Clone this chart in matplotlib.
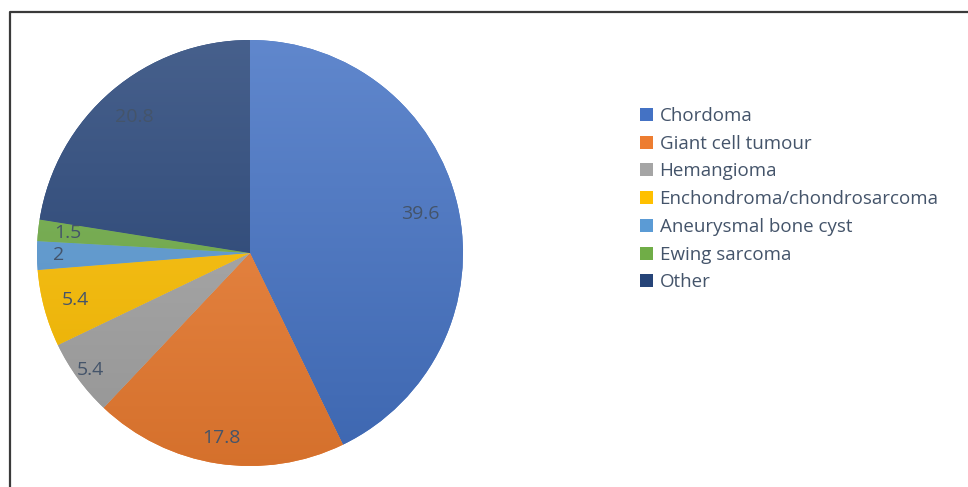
import numpy as np
import matplotlib
matplotlib.use("Agg")
import matplotlib.pyplot as plt
from matplotlib.colors import LinearSegmentedColormap, to_rgb
from matplotlib.patches import Patch
from matplotlib.lines import Line2D

# ---- data ----
categories = ["Chordoma", "Giant cell tumour", "Hemangioma",
              "Enchondroma/chondrosarcoma", "Aneurysmal bone cyst",
              "Ewing sarcoma", "Other"]
values = [39.6, 17.8, 5.4, 5.4, 2, 1.5, 20.8]
value_labels = ["39.6", "17.8", "5.4", "5.4", "2", "1.5", "20.8"]

# ---- style ----
base_colors = ["#4472C4", "#ED7D31", "#A5A5A5", "#FFC000",
               "#5B9BD5", "#70AD47", "#264478"]
label_radius = [0.82, 0.88, 0.93, 0.85, 0.90, 0.86, 0.84]
text_color = "#44546A"
font = ["Open Sans", "DejaVu Sans"]


def mix(c, other, t):
    c = np.array(to_rgb(c))
    return tuple(c * (1 - t) + np.array(other) * t)


W, H = 968, 487
fig = plt.figure(figsize=(W / 100, H / 100), dpi=100)

# cropped frame line (top and left)
fig.add_artist(Line2D([10 / W, 10 / W, 1.0], [0.0, 1 - 12 / H, 1 - 12 / H],
                      transform=fig.transFigure, color="#3a3a3a", lw=1.6))

cx, cy, R = 250, 253, 213
ax = fig.add_axes([(cx - R) / W, (H - cy - R) / H, 2 * R / W, 2 * R / H])

wedges, _ = ax.pie(values, colors=base_colors, startangle=90, counterclock=False,
                   radius=1, wedgeprops=dict(linewidth=0))
ax.set_aspect("equal")
ax.axis("off")

# vertical gradient (lighter on top) clipped to each wedge
grad = np.linspace(0, 1, 256).reshape(-1, 1)
for w, c in zip(wedges, base_colors):
    cmap = LinearSegmentedColormap.from_list(
        "g", [mix(c, (1, 1, 1), 0.15), mix(c, (0, 0, 0), 0.1)])
    im = ax.imshow(grad, cmap=cmap, extent=[-1, 1, -1, 1], origin="upper",
                   aspect="auto", zorder=w.get_zorder() + 0.1)
    im.set_clip_path(w)
ax.set_xlim(-1, 1)
ax.set_ylim(-1, 1)

for w, lab, r in zip(wedges, value_labels, label_radius):
    ang = np.deg2rad((w.theta1 + w.theta2) / 2)
    ax.text(r * np.cos(ang), r * np.sin(ang), lab, ha="center", va="center",
            fontsize=14, color=text_color, family=font, zorder=5)

handles = [Patch(facecolor=c, edgecolor="none") for c in base_colors]
leg = fig.legend(handles, categories, loc="upper left",
                 bbox_to_anchor=(623 / W, 1 - 90 / H), frameon=False,
                 handlelength=0.7, handleheight=0.7, handletextpad=0.35,
                 labelspacing=0.52, prop=dict(family=font, size=13.5),
                 labelcolor=text_color)

fig.savefig("out.png", dpi=100)
